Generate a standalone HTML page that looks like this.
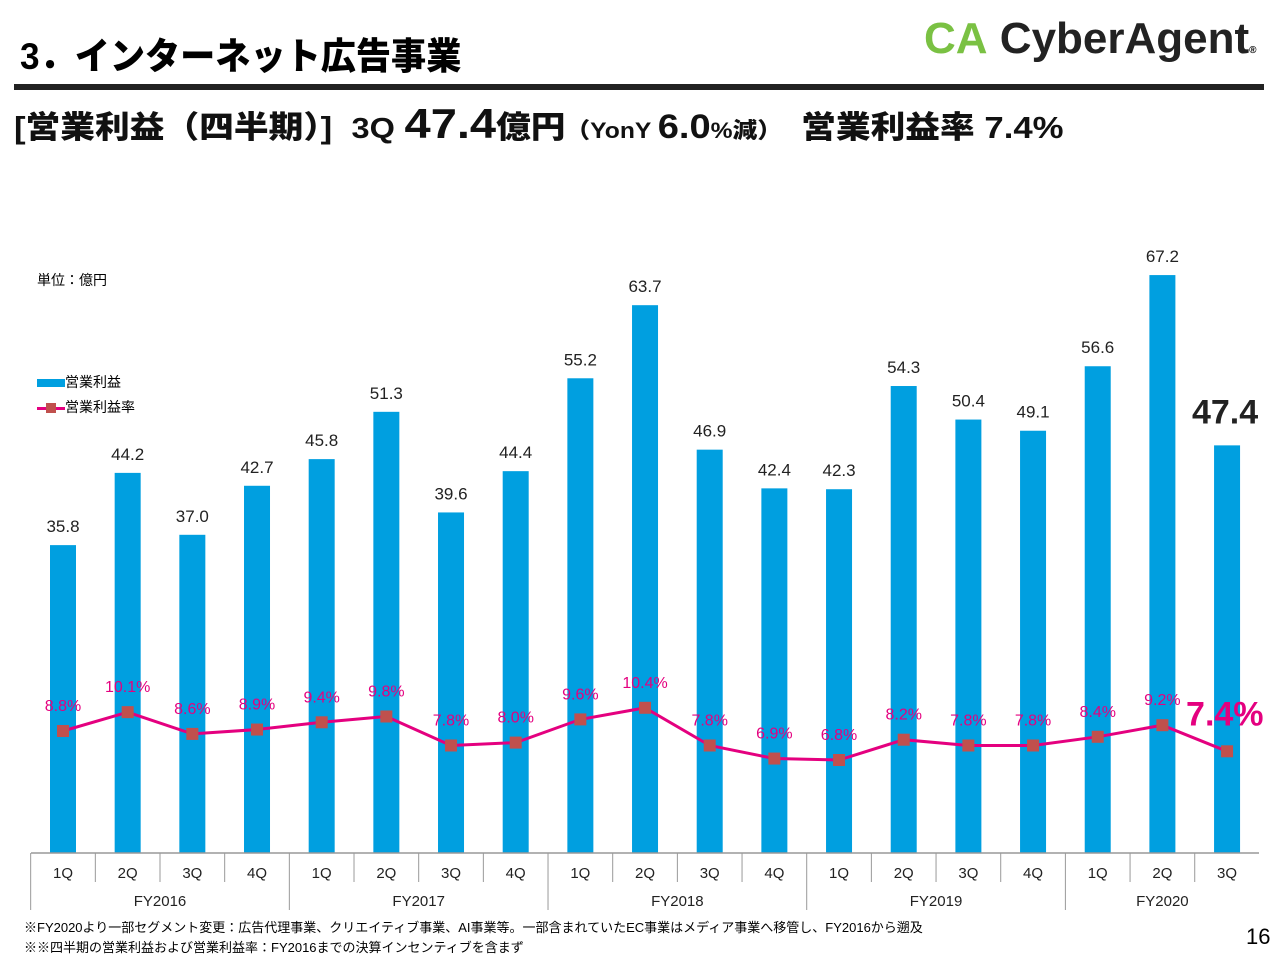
<!DOCTYPE html>
<html><head><meta charset="utf-8"><style>
body{margin:0;width:1280px;height:956px;background:#fff;overflow:hidden;font-family:"Liberation Sans","Noto Sans CJK JP",sans-serif;position:relative}
.a{position:absolute;white-space:nowrap}
</style></head><body>
<div class="a" style="left:20px;top:26px;font-size:37px;font-weight:900;transform:scaleX(0.95);transform-origin:left">3．インターネット広告事業</div>
<div class="a" style="left:924px;top:14px;font-size:44px;font-weight:bold"><span style="color:#7ac143;font-weight:900">CA</span> <span style="color:#222">CyberAgent</span><span style="font-size:10px">®</span></div>
<div class="a" style="left:14px;top:84px;width:1250px;height:6px;background:#222"></div>
<div class="a" style="left:14px;top:100px;font-size:31px;font-weight:900;color:#111;transform:scaleX(1.12);transform-origin:left">[営業利益（四半期）]&nbsp;&nbsp;<span style="font-size:29px">3Q</span> <span style="font-size:42px">47.4</span>億円<span style="font-size:22px">（YonY </span><span style="font-size:34px">6.0</span><span style="font-size:22px">%減）</span>&nbsp;&nbsp;営業利益率 7.4%</div>
<div class="a" style="left:37px;top:270px;font-size:14px">単位：億円</div>
<div class="a" style="left:37px;top:372px;font-size:14px"><span style="display:inline-block;width:28px;height:8px;background:#009fe0;vertical-align:middle"></span>営業利益</div>
<div class="a" style="left:37px;top:397px;font-size:14px"><span style="display:inline-block;width:28px;height:3px;background:#e4007f;vertical-align:middle;position:relative"><span style="position:absolute;left:9px;top:-4px;width:10px;height:10px;background:#c0504d"></span></span>営業利益率</div>
<svg class="a" style="left:0;top:0" width="1280" height="956" id="svg"></svg>
<div class="a" style="left:24px;top:917px;font-size:13px">※FY2020より一部セグメント変更：広告代理事業、クリエイティブ事業、AI事業等。一部含まれていたEC事業はメディア事業へ移管し、FY2016から遡及</div>
<div class="a" style="left:24px;top:937px;font-size:13px">※※四半期の営業利益および営業利益率：FY2016までの決算インセンティブを含まず</div>
<div class="a" style="left:1246px;top:924px;font-size:22px">16</div>
<script>
const quarters=["1Q","2Q","3Q","4Q","1Q","2Q","3Q","4Q","1Q","2Q","3Q","4Q","1Q","2Q","3Q","4Q","1Q","2Q","3Q"];
const years=["FY2016","FY2017","FY2018","FY2019","FY2020"];
const profit=[35.8,44.2,37.0,42.7,45.8,51.3,39.6,44.4,55.2,63.7,46.9,42.4,42.3,54.3,50.4,49.1,56.6,67.2,47.4];
const margin=[8.8,10.1,8.6,8.9,9.4,9.8,7.8,8.0,9.6,10.4,7.8,6.9,6.8,8.2,7.8,7.8,8.4,9.2,7.4];
const NS="http://www.w3.org/2000/svg",svg=document.getElementById('svg');
const x0=63,dx=64.67,base=853;
const X=i=>x0+i*dx, Y=v=>base-v*8.6, YR=v=>858.6-v*14.5;
function mk(t,a){const e=document.createElementNS(NS,t);for(const k in a)e.setAttribute(k,a[k]);svg.appendChild(e);return e;}
profit.forEach((v,i)=>{
 const r=mk('rect',{x:X(i)-13,y:Y(v),width:26,height:base-Y(v),fill:'#009fe0'});
 
 
 const last=i==profit.length-1;
 const t=mk('text',{x:last?X(i)-2:X(i),y:last?Y(v)-22:Y(v)-13,'text-anchor':'middle','font-size':last?34:17,'font-weight':last?'bold':'normal',fill:'#222'});
 t.textContent=v.toFixed(1);
 
 
});
const pl=mk('polyline',{points:margin.map((v,i)=>X(i)+','+YR(v)).join(' '),fill:'none',stroke:'#e4007f','stroke-width':3});


margin.forEach((v,i)=>{
 const m=mk('rect',{x:X(i)-6,y:YR(v)-6,width:12,height:12,fill:'#c0504d'});
 
 
 const last=i==margin.length-1;
 const t=mk('text',{x:last?X(i):X(i),y:last?YR(v)-26:YR(v)-20,'text-anchor':last?'start':'middle','font-size':last?34:16,'font-weight':last?'bold':'normal',fill:'#e4007f'});
 if(last) t.setAttribute('x',X(i)-41);
 t.textContent=v.toFixed(1)+'%';
 
 
});
const left=31,right=1259;
mk('line',{x1:left,y1:base,x2:right,y2:base,stroke:'#999','stroke-width':1.5});
quarters.forEach((q,i)=>{
 const t=mk('text',{x:X(i),y:878,'text-anchor':'middle','font-size':15,fill:'#222'});
 t.textContent=q;
 
 
 if(i%4!=0) mk('line',{x1:X(i)-dx/2,y1:base,x2:X(i)-dx/2,y2:882,stroke:'#999'});
});
years.forEach((y,k)=>{
 const s=k*4,e=Math.min(s+3,quarters.length-1);
 const t=mk('text',{x:(X(s)+X(e))/2,y:906,'text-anchor':'middle','font-size':15,fill:'#222'});
 t.textContent=y;
 
 
 mk('line',{x1:X(s)-dx/2,y1:base,x2:X(s)-dx/2,y2:910,stroke:'#999'});
});
</script>
</body></html>
